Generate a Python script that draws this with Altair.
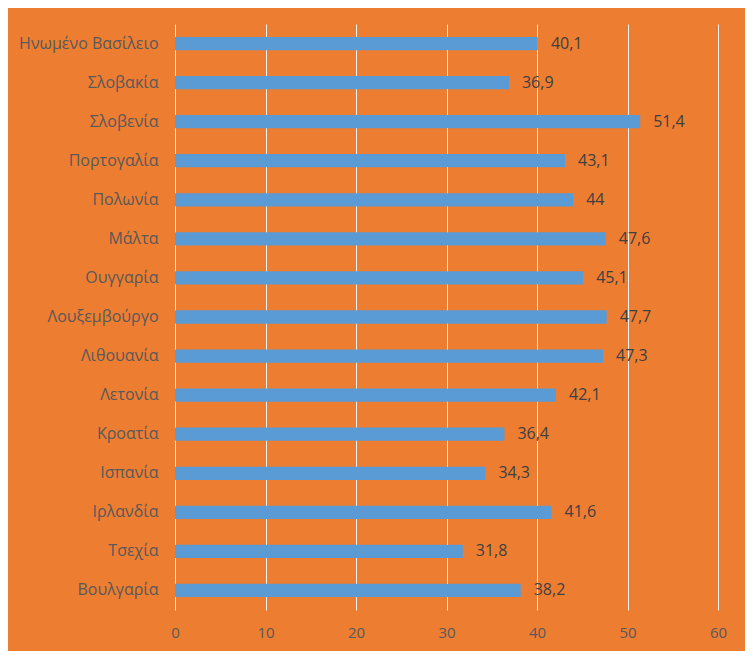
import altair as alt
import pandas as pd

countries = ["Ηνωμένο Βασίλειο", "Σλοβακία", "Σλοβενία", "Πορτογαλία", "Πολωνία",
             "Μάλτα", "Ουγγαρία", "Λουξεμβούργο", "Λιθουανία", "Λετονία",
             "Κροατία", "Ισπανία", "Ιρλανδία", "Τσεχία", "Βουλγαρία"]
values = [40.1, 36.9, 51.4, 43.1, 44, 47.6, 45.1, 47.7, 47.3, 42.1,
          36.4, 34.3, 41.6, 31.8, 38.2]

def fmt(v):
    s = ("%g" % v)
    return s.replace(".", ",")

df = pd.DataFrame({"country": countries, "value": values,
                   "label": [fmt(v) for v in values]})

ORANGE = "#ED7D31"
BLUE = "#5B9BD5"
FONT = "Open Sans"

y = alt.Y("country:N", sort=countries, title=None,
          scale=alt.Scale(paddingInner=0.66, paddingOuter=0.33),
          axis=alt.Axis(labelFontSize=16, labelColor="#595959", labelFont=FONT,
                        labelPadding=17, ticks=False, domain=False, grid=False))
x = alt.X("value:Q", title=None,
          scale=alt.Scale(domain=[0, 60], nice=False),
          axis=alt.Axis(values=[0, 10, 20, 30, 40, 50, 60], labelFontSize=15,
                        labelColor="#595959", labelFont=FONT, labelPadding=15,
                        labelFlush=False,
                        ticks=False, domain=False, grid=True, gridColor="#F2F2F2",
                        gridWidth=1))

bars = alt.Chart(df).mark_bar(color=BLUE).encode(x=x, y=y)
text = alt.Chart(df).mark_text(align="left", baseline="middle", dx=13, fontSize=16,
                               font=FONT, color="#404040").encode(
    x="value:Q", y=alt.Y("country:N", sort=countries), text="label:N")

chart = (bars + text).properties(
    width=543, height=586, background=ORANGE,
    autosize=alt.AutoSizeParams(type="none"),
    padding={"left": 167, "top": 16, "right": 27, "bottom": 41}
).configure_view(stroke=None, fill=ORANGE)

chart.save("out.html", embed_options={"renderer": "svg", "actions": False})
